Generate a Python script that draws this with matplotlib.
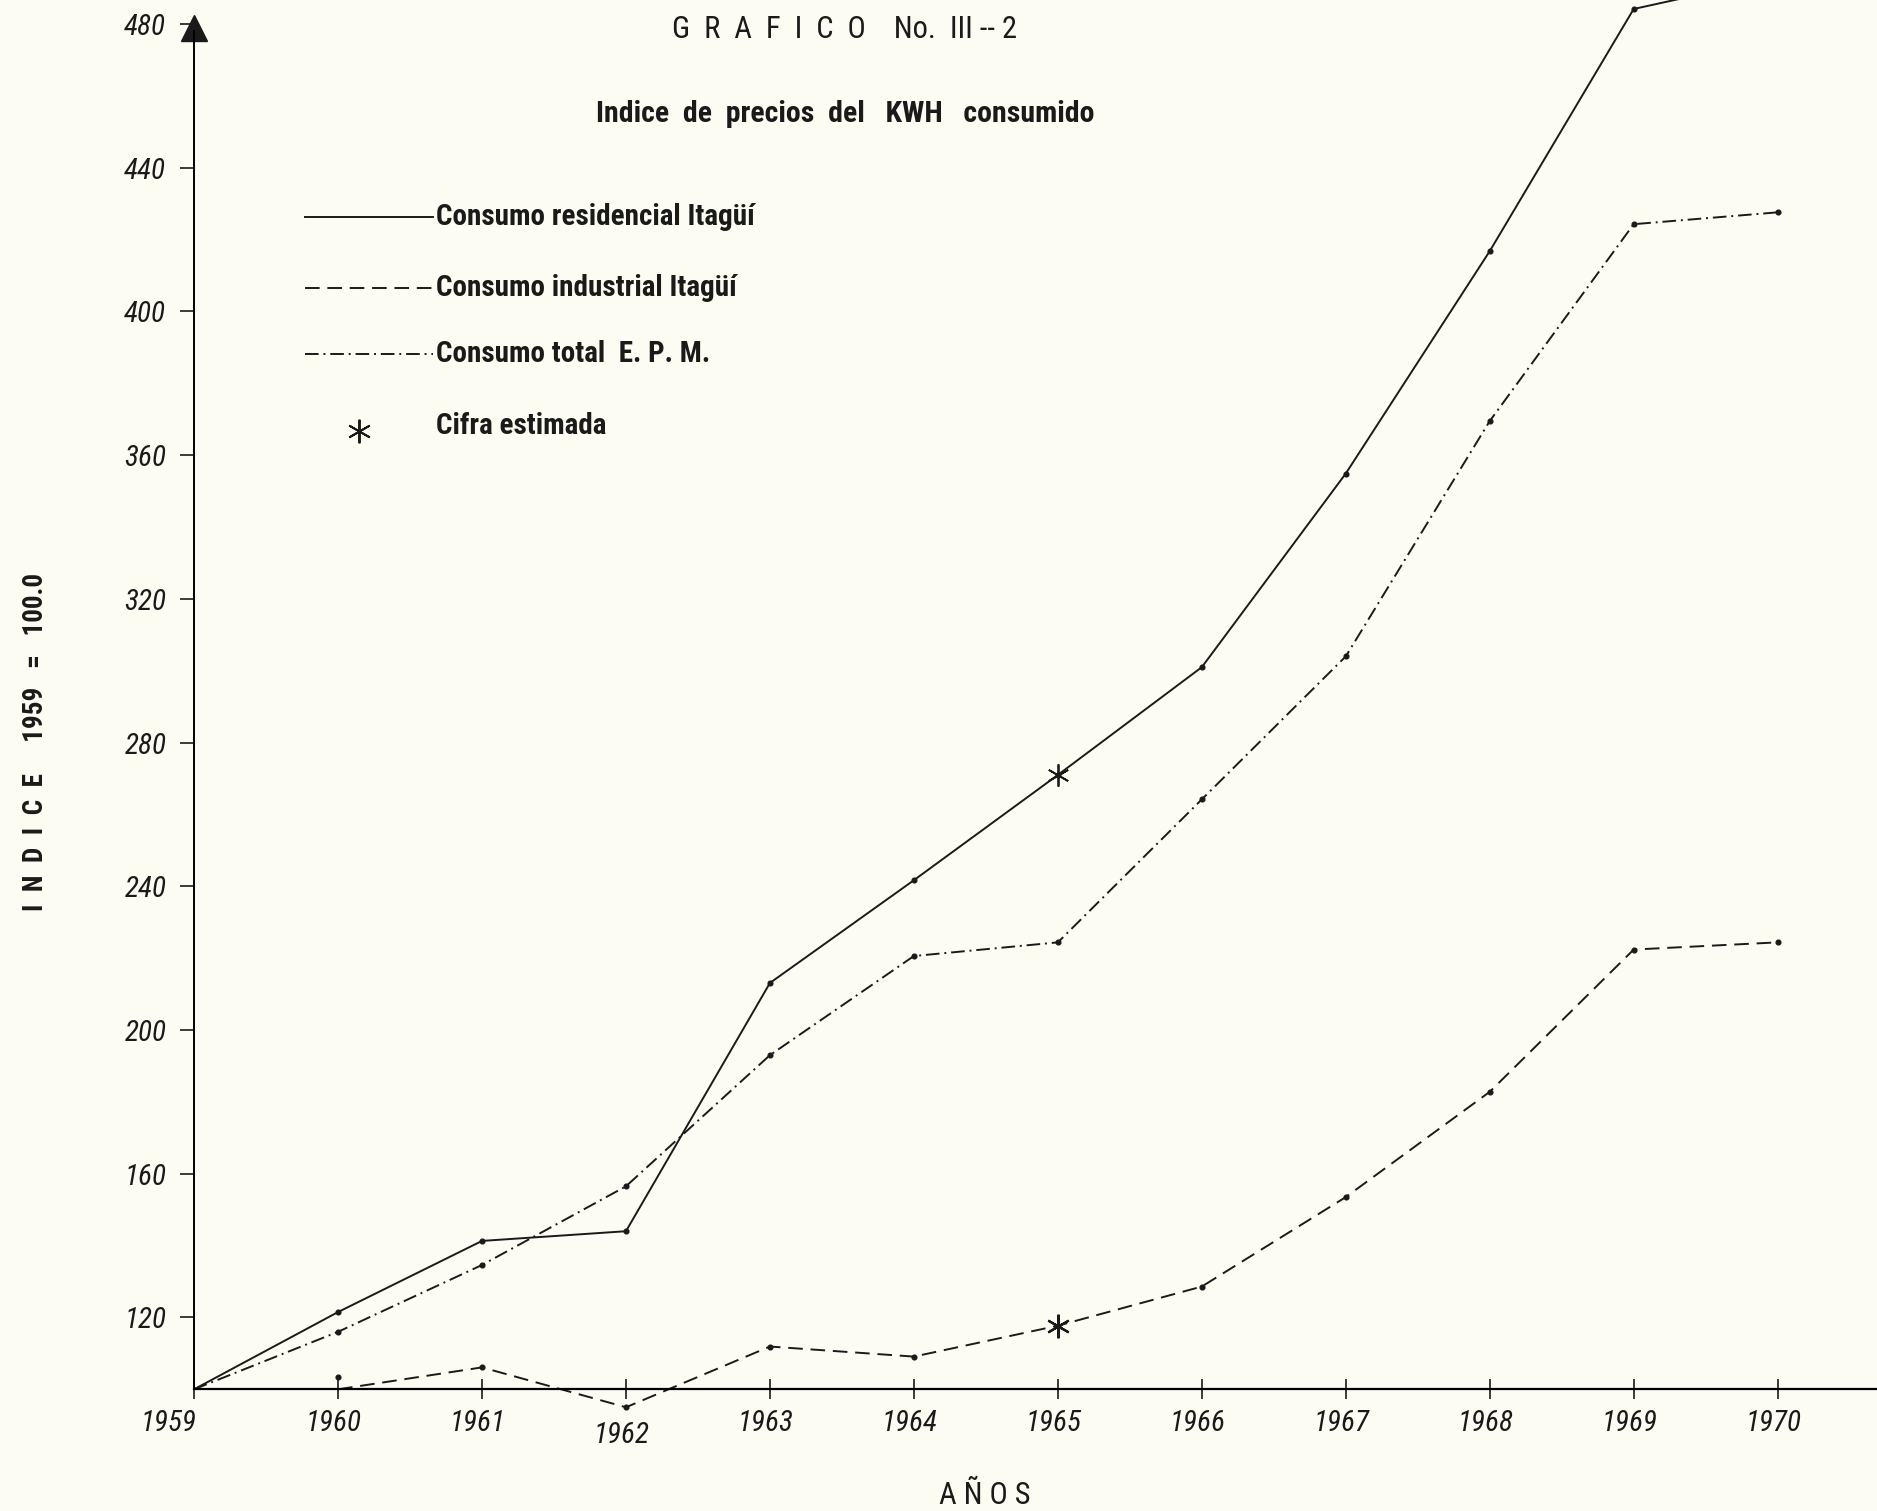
import matplotlib
matplotlib.use("Agg")
import matplotlib.pyplot as plt
import matplotlib.transforms as mtransforms
from matplotlib.lines import Line2D

# --- data (index, 1959 = 100) ---
years = [1959, 1960, 1961, 1962, 1963, 1964, 1965, 1966, 1967, 1968, 1969, 1970]
residencial = [100, 121.5, 141.3, 144.0, 213.1, 241.7, 271.0, 301.0, 354.9, 416.8, 484.2, 493.0]
total_epm = [100, 116.0, 134.6, 156.5, 193.0, 220.6, 224.4, 264.2, 304.0, 369.5, 424.3, 427.6]
years_ind = [1960, 1961, 1962, 1963, 1964, 1965, 1966, 1967, 1968, 1969, 1970]
industrial = [100, 106.1, 95.0, 111.9, 109.1, 117.7, 128.6, 153.5, 182.8, 222.4, 224.4]
industrial_marca_1960 = 103.5
estimado_year = 1965
y_ticks = [120, 160, 200, 240, 280, 320, 360, 400, 440, 480]
x_labels = [str(y) for y in years]

PAPER = "#fdfcf3"
INK = "#1a1a1a"
COND = ["Roboto Condensed", "Liberation Sans Narrow", "Liberation Sans", "DejaVu Sans"]

plt.rcParams["font.family"] = COND

fig = plt.figure(figsize=(18.77, 15.11), dpi=100, facecolor=PAPER)
ax = fig.add_axes([0.1034, 0.0639, 0.8966, 0.9361])
ax.set_facecolor(PAPER)
ax.set_xlim(1959, 1970.69)
ax.set_ylim(93, 486.7)

lw = 1.4
dashed = (7.5, 4)
dashdot = (7, 2.5, 1, 2.5)

ax.plot(years, residencial, color=INK, lw=lw, clip_on=True)
ax.plot(years[1:], residencial[1:], 'o', color=INK, ms=3.4)

ax.plot(years, total_epm, color=INK, lw=lw, dashes=dashdot, clip_on=False)
ax.plot(years[1:], total_epm[1:], 'o', color=INK, ms=3.4, clip_on=False)

ax.plot(years_ind, industrial, color=INK, lw=lw, dashes=dashed, clip_on=False)
ax.plot(years_ind[1:], industrial[1:], 'o', color=INK, ms=3.4, clip_on=False)
ax.plot([years_ind[0]], [industrial_marca_1960], 'o', color=INK, ms=3.4)

# estimated figures (asterisks)
star = (6, 2, 0)
i_res = years.index(estimado_year)
i_ind = years_ind.index(estimado_year)
ax.plot([estimado_year], [residencial[i_res]], marker=star, ms=16, mew=1.3,
        color=INK, ls="none")
ax.plot([estimado_year], [industrial[i_ind]], marker=star, ms=17, mew=1.6,
        color=INK, ls="none")

# axes styling
for s in ["top", "right"]:
    ax.spines[s].set_visible(False)
ax.spines["bottom"].set_position(("data", 100))
ax.spines["left"].set_bounds(100, 478)
ax.spines["bottom"].set_linewidth(1.6)
ax.spines["left"].set_linewidth(1.4)
ax.plot(0, 479, marker="^", ms=19, color=INK, transform=ax.get_yaxis_transform(),
        clip_on=False)

ax.set_yticks(y_ticks)
ax.set_yticklabels([str(v) for v in y_ticks])
ax.tick_params(axis="y", direction="out", length=10, width=1.2, pad=10,
               labelsize=21, colors=INK)
ax.set_xticks(years)
ax.set_xticklabels(x_labels)
ax.tick_params(axis="x", direction="inout", length=14, width=1.2, pad=7,
               labelsize=21, colors=INK)
for lbl in ax.get_yticklabels() + ax.get_xticklabels():
    lbl.set_fontstyle("italic")
for lbl in ax.get_xticklabels():
    dx, dy = -4, 0
    if lbl.get_text() == "1959":
        dx = -26
    if lbl.get_text() == "1962":
        dy = -12
    lbl.set_transform(lbl.get_transform() +
                      mtransforms.ScaledTranslation(dx / 100, dy / 100, fig.dpi_scale_trans))

# titles and axis labels
fig.text(845 / 1877, 1 - 30 / 1511, "G  R  A  F  I  C  O    No.  III -- 2", ha="center",
         va="center", fontsize=22, color=INK)
fig.text(845 / 1877, 1 - 114 / 1511, "Indice  de  precios  del   KWH   consumido",
         ha="center", va="center", fontsize=21.5, fontweight="bold", color=INK)
fig.text(36 / 1877, 1 - 742 / 1511, "I  N  D  I  C  E     1959   =   100.0",
         rotation=90, ha="center", va="center", fontsize=19.5, fontweight="bold", color=INK)
fig.text(985 / 1877, 1 - 1496 / 1511, "A Ñ O S", ha="center", va="center",
         fontsize=22, color=INK)

# legend drawn by hand, as in the original
W, H = 1877, 1511
rows = [
    (217, "Consumo residencial Itagüí", None),
    (288, "Consumo industrial Itagüí", dashed),
    (354, "Consumo total  E. P. M.", dashdot),
]
for y, text, dash in rows:
    kw = dict(color=INK, lw=lw, transform=fig.transFigure)
    line = Line2D([305 / W, 433 / W], [1 - y / H, 1 - y / H], **kw)
    if dash is not None:
        line.set_dashes(dash)
    fig.add_artist(line)
    fig.text(436 / W, 1 - y / H, text, ha="left", va="center", fontsize=21,
             fontweight="bold", color=INK)
fig.add_artist(Line2D([359 / W], [1 - 431 / H], marker=star, ms=17, mew=1.4,
                      color=INK, ls="none", transform=fig.transFigure))
fig.text(436 / W, 1 - 426 / H, "Cifra estimada", ha="left", va="center", fontsize=21,
         fontweight="bold", color=INK)

fig.savefig("out.png", dpi=100, facecolor=PAPER)
